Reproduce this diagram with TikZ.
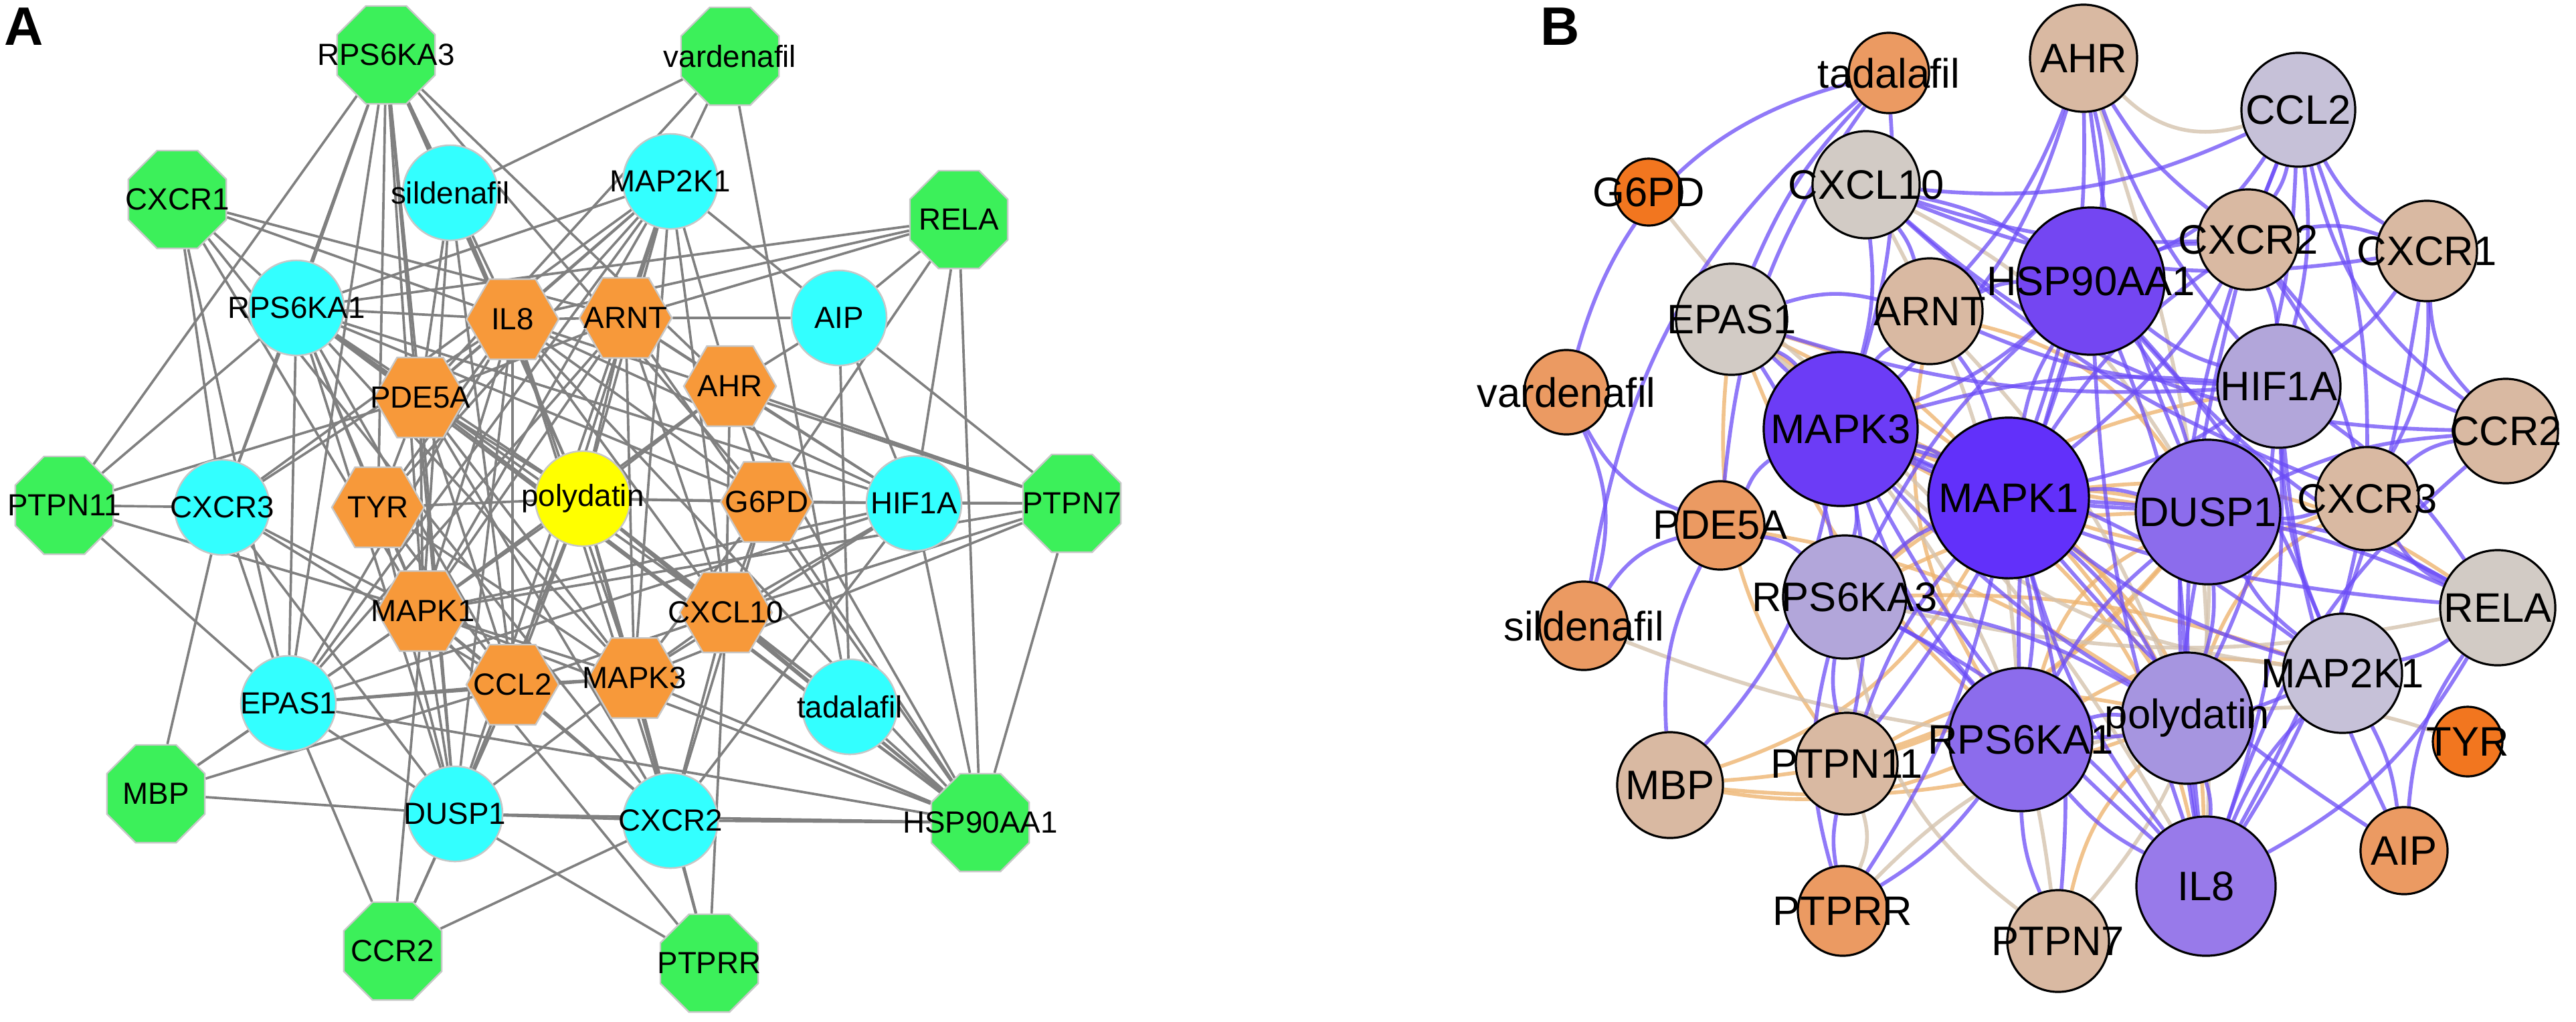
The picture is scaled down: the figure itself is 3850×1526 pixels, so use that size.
\documentclass[tikz,border=0pt]{standalone}
\usepackage{fontspec}
\setmainfont{Liberation Sans}
\usetikzlibrary{shapes.geometric,backgrounds}
\newcommand{\nlab}[1]{\makebox[0pt][c]{#1}}
\definecolor{agreen}{RGB}{60,240,90}
\definecolor{acyan}{RGB}{51,255,255}
\definecolor{aorange}{RGB}{247,153,58}
\definecolor{ayellow}{RGB}{255,255,0}
\definecolor{agray}{RGB}{128,128,128}
\definecolor{cva}{RGB}{98,48,250}
\definecolor{cvb}{RGB}{108,60,246}
\definecolor{cvh}{RGB}{116,70,242}
\definecolor{cpa}{RGB}{140,108,236}
\definecolor{cpb}{RGB}{152,122,234}
\definecolor{cpol}{RGB}{166,149,224}
\definecolor{clp}{RGB}{178,166,218}
\definecolor{clav}{RGB}{198,193,216}
\definecolor{cbei}{RGB}{210,203,197}
\definecolor{ctan}{RGB}{217,185,162}
\definecolor{corg}{RGB}{235,154,98}
\definecolor{cdorg}{RGB}{242,118,31}
\definecolor{epur}{RGB}{107,76,246}
\definecolor{etan}{RGB}{237,180,112}
\definecolor{ebei}{RGB}{212,195,174}
\begin{document}
\begin{tikzpicture}[x=0.01cm,y=-0.01cm,
 an/.style={inner sep=0pt, draw=black!22, line width=0.7pt, font=\fontsize{13}{13}\selectfont},
 oct/.style={an, regular polygon, regular polygon sides=8, minimum size=1.58cm, fill=agreen},
 hexa/.style={an, regular polygon, regular polygon sides=6, minimum size=1.38cm, fill=aorange},
 circa/.style={an, circle, minimum size=1.42cm, fill=acyan},
 ae/.style={draw=agray, line width=1.05pt},
 bn/.style={circle, draw=black, line width=0.9pt, inner sep=0pt, font=\fontsize{17.5}{17.5}\selectfont},
 pe/.style={draw=epur, draw opacity=0.75, line width=1.6pt},
 te/.style={draw=etan, draw opacity=0.8, line width=1.6pt},
 ge/.style={draw=ebei, draw opacity=0.8, line width=1.6pt},
 plab/.style={font=\fontsize{23}{23}\selectfont\bfseries, inner sep=0pt}
]
\useasboundingbox (0,0) rectangle (3850,1526);
\node[plab] (labA) at (36,40) {A};
\node[plab] (labB) at (2332,40) {B};
% ---------- Panel A nodes
\node[oct] (R3) at (577,82) {\nlab{RPS6KA3}};
\node[oct] (VAR) at (1091,84) {\nlab{vardenafil}};
\node[oct] (CX1) at (265,298) {\nlab{CXCR1}};
\node[circa] (SIL) at (673,288) {\nlab{sildenafil}};
\node[circa] (M2K) at (1002,271) {\nlab{MAP2K1}};
\node[oct] (RELA) at (1433,328) {\nlab{RELA}};
\node[circa] (R1) at (443,460) {\nlab{RPS6KA1}};
\node[hexa] (IL8) at (766,477) {\nlab{IL8}};
\node[hexa] (ARNT) at (935,475) {\nlab{ARNT}};
\node[circa] (AIP) at (1254,475) {\nlab{AIP}};
\node[hexa] (AHR) at (1091,577) {\nlab{AHR}};
\node[hexa] (PDE) at (628,594) {\nlab{PDE5A}};
\node[oct] (P11) at (96,755) {\nlab{PTPN11}};
\node[circa] (CX3) at (332,758) {\nlab{CXCR3}};
\node[hexa] (TYR) at (565,758) {\nlab{TYR}};
\node[circa, fill=ayellow] (POL) at (871,745) {\nlab{polydatin}};
\node[hexa] (G6PD) at (1146,750) {\nlab{G6PD}};
\node[circa] (HIF) at (1366,752) {\nlab{HIF1A}};
\node[oct] (P7) at (1602,752) {\nlab{PTPN7}};
\node[hexa] (MK1) at (632,913) {\nlab{MAPK1}};
\node[hexa] (CX10) at (1085,915) {\nlab{CXCL10}};
\node[hexa] (CCL2) at (766,1023) {\nlab{CCL2}};
\node[hexa] (MK3) at (948,1013) {\nlab{MAPK3}};
\node[circa] (TAD) at (1270,1056) {\nlab{tadalafil}};
\node[circa] (EP) at (431,1051) {\nlab{EPAS1}};
\node[oct] (MBP) at (233,1186) {\nlab{MBP}};
\node[circa] (DU) at (680,1216) {\nlab{DUSP1}};
\node[circa] (CX2) at (1002,1226) {\nlab{CXCR2}};
\node[oct] (HSP) at (1465,1229) {\nlab{HSP90AA1}};
\node[oct] (CCR2) at (587,1421) {\nlab{CCR2}};
\node[oct] (PRR) at (1060,1439) {\nlab{PTPRR}};
\begin{scope}[on background layer]
\foreach \a/\b in {R3/P11,R3/R1,R3/CX3,R3/EP,R3/TYR,R3/PDE,R3/SIL,R3/MK1,R3/DU,R3/IL8,R3/AHR,R3/G6PD,R3/POL,
 VAR/SIL,VAR/M2K,VAR/TAD,VAR/PDE,
 CX1/R1,CX1/CX3,CX1/EP,CX1/IL8,CX1/MK1,CX1/CX2,CX1/ARNT,
 SIL/PDE,SIL/MK1,SIL/POL,SIL/CCL2,
 M2K/R1,M2K/IL8,M2K/ARNT,M2K/PDE,M2K/TYR,M2K/CX3,M2K/MK1,M2K/POL,M2K/MK3,M2K/CCL2,M2K/DU,M2K/AIP,M2K/AHR,M2K/CX10,M2K/EP,
 RELA/R1,RELA/IL8,RELA/ARNT,RELA/AIP,RELA/HIF,RELA/HSP,RELA/G6PD,
 AIP/ARNT,AIP/AHR,AIP/HIF,AIP/P7,AIP/TAD,
 R1/IL8,R1/PDE,R1/TYR,R1/CX3,R1/P11,R1/EP,R1/MK1,R1/DU,R1/POL,R1/CCL2,R1/MK3,R1/HIF,R1/CX10,R1/G6PD,R1/HSP,
 IL8/ARNT,IL8/PDE,IL8/TYR,IL8/MK1,IL8/CCL2,IL8/MK3,IL8/CX10,IL8/CX2,IL8/DU,IL8/EP,IL8/HSP,IL8/CX3,IL8/P7,IL8/HIF,IL8/G6PD,
 ARNT/AHR,ARNT/PDE,ARNT/MK1,ARNT/POL,ARNT/HIF,ARNT/MK3,ARNT/CX10,ARNT/HSP,ARNT/EP,
 AHR/HIF,AHR/HSP,AHR/MK1,AHR/G6PD,AHR/CX10,AHR/POL,AHR/P7,
 PDE/TYR,PDE/MK1,PDE/POL,PDE/CCL2,PDE/MK3,PDE/HSP,PDE/CX2,PDE/DU,PDE/P11,
 P11/CX3,P11/EP,P11/MK1,
 CX3/EP,CX3/MBP,CX3/MK1,CX3/CCL2,CX3/DU,
 TYR/MK1,TYR/POL,TYR/CCL2,TYR/MK3,TYR/DU,
 POL/G6PD,POL/HIF,POL/MK1,POL/MK3,POL/CCL2,POL/CX10,POL/DU,POL/CX2,POL/HSP,POL/TAD,
 G6PD/HIF,G6PD/MK3,G6PD/CX10,G6PD/HSP,G6PD/P7,G6PD/CX2,
 HIF/P7,HIF/HSP,HIF/CX10,HIF/MK3,HIF/MK1,HIF/CX2,HIF/EP,
 P7/HSP,P7/MK3,P7/CX10,P7/MK1,
 MK1/CCL2,MK1/MK3,MK1/EP,MK1/DU,MK1/CX2,MK1/HSP,MK1/MBP,MK1/CCR2,MK1/PRR,
 CX10/MK3,CX10/CCL2,CX10/TAD,CX10/HSP,CX10/CX2,CX10/PRR,
 CCL2/MK3,CCL2/EP,CCL2/DU,CCL2/CX2,CCL2/CCR2,CCL2/MBP,
 MK3/DU,MK3/CX2,MK3/HSP,MK3/EP,MK3/PRR,
 TAD/HSP,EP/MBP,EP/DU,EP/CCR2,EP/HSP,MBP/DU,
 DU/CX2,DU/CCR2,DU/PRR,DU/HSP,CX2/HSP,CX2/PRR,CX2/CCR2}
 \draw[ae] (\a) -- (\b);
\end{scope}
% ---------- Panel B nodes
\node[bn, fill=corg, minimum size=1.2cm] (tadb) at (2823,109) {\nlab{tadalafil}};
\node[bn, fill=cdorg, minimum size=1.0cm] (g6b) at (2464,287) {\nlab{G6PD}};
\node[bn, fill=cbei, minimum size=1.6cm] (cx10b) at (2789,276) {\nlab{CXCL10}};
\node[bn, fill=cbei, minimum size=1.66cm] (epb) at (2588,477) {\nlab{EPAS1}};
\node[bn, fill=ctan, minimum size=1.58cm] (arntb) at (2884,465) {\nlab{ARNT}};
\node[bn, fill=corg, minimum size=1.26cm] (varb) at (2341,586) {\nlab{vardenafil}};
\node[bn, fill=cvb, minimum size=2.3cm] (mk3b) at (2751,641) {\nlab{MAPK3}};
\node[bn, fill=corg, minimum size=1.32cm] (pdeb) at (2571,785) {\nlab{PDE5A}};
\node[bn, fill=corg, minimum size=1.32cm] (silb) at (2367,935) {\nlab{sildenafil}};
\node[bn, fill=clp, minimum size=1.84cm] (r3b) at (2757,892) {\nlab{RPS6KA3}};
\node[bn, fill=ctan, minimum size=1.58cm] (mbpb) at (2496,1173) {\nlab{MBP}};
\node[bn, fill=ctan, minimum size=1.52cm] (p11b) at (2760,1141) {\nlab{PTPN11}};
\node[bn, fill=corg, minimum size=1.34cm] (prrb) at (2754,1361) {\nlab{PTPRR}};
\node[bn, fill=ctan, minimum size=1.6cm] (ahrb) at (3114,87) {\nlab{AHR}};
\node[bn, fill=clav, minimum size=1.7cm] (ccl2b) at (3435,164) {\nlab{CCL2}};
\node[bn, fill=ctan, minimum size=1.5cm] (cx2b) at (3360,358) {\nlab{CXCR2}};
\node[bn, fill=ctan, minimum size=1.5cm] (cx1b) at (3627,375) {\nlab{CXCR1}};
\node[bn, fill=cvh, minimum size=2.2cm] (hspb) at (3125,420) {\nlab{HSP90AA1}};
\node[bn, fill=clp, minimum size=1.84cm] (hifb) at (3406,577) {\nlab{HIF1A}};
\node[bn, fill=ctan, minimum size=1.56cm] (ccr2b) at (3745,644) {\nlab{CCR2}};
\node[bn, fill=ctan, minimum size=1.54cm] (cx3b) at (3538,745) {\nlab{CXCR3}};
\node[bn, fill=cva, minimum size=2.4cm] (mk1b) at (3002,744) {\nlab{MAPK1}};
\node[bn, fill=cpa, minimum size=2.16cm] (dub) at (3300,765) {\nlab{DUSP1}};
\node[bn, fill=cbei, minimum size=1.72cm] (relab) at (3733,908) {\nlab{RELA}};
\node[bn, fill=clav, minimum size=1.78cm] (m2kb) at (3501,1006) {\nlab{MAP2K1}};
\node[bn, fill=cpol, minimum size=1.96cm] (polb) at (3269,1073) {\nlab{polydatin}};
\node[bn, fill=cpa, minimum size=2.14cm] (r1b) at (3020,1105) {\nlab{RPS6KA1}};
\node[bn, fill=cdorg, minimum size=1.04cm] (tyrb) at (3688,1108) {\nlab{TYR}};
\node[bn, fill=corg, minimum size=1.3cm] (aipb) at (3593,1271) {\nlab{AIP}};
\node[bn, fill=cpb, minimum size=2.08cm] (il8b) at (3297,1324) {\nlab{IL8}};
\node[bn, fill=ctan, minimum size=1.52cm] (p7b) at (3076,1406) {\nlab{PTPN7}};
\begin{scope}[on background layer]
\foreach \a/\b/\k in {mbpb/r1b/-15,mbpb/mk1b/-20,mbpb/dub/-22,mbpb/polb/-12,epb/mk1b/15,epb/dub/-15,epb/polb/15,
 r3b/dub/12,p7b/polb/15,cx3b/mk1b/20,relab/mk1b/-20,r1b/dub/22,r3b/m2kb/10,mk3b/polb/22,p11b/dub/-15,pdeb/polb/12,epb/r1b/-12,
 arntb/r1b/-20,mk3b/il8b/25,r3b/hifb/15,p11b/polb/20,mk1b/il8b/25,dub/r3b/-25,cx3b/polb/-20,arntb/dub/20,r1b/m2kb/20,epb/p11b/-20}
 \draw[te] (\a) to[bend left=\k] (\b);
\foreach \a/\b/\k in {g6b/mk1b/-10,ahrb/ccl2b/-30,silb/r1b/-6,tyrb/polb/-12,prrb/polb/15,p7b/mk3b/-15,arntb/polb/10,prrb/p11b/-20,epb/il8b/10,cx10b/r1b/12,p7b/r3b/20,
 cx10b/dub/15,mk3b/m2kb/-18,r3b/relab/-12,ahrb/il8b/10,p7b/dub/-20}
 \draw[ge] (\a) to[bend left=\k] (\b);
\foreach \a/\b/\k in {tadb/varb/-30,tadb/pdeb/-15,tadb/epb/-10,tadb/mk3b/10,tadb/silb/-20,varb/pdeb/-20,varb/silb/20,silb/pdeb/20,
 pdeb/mbpb/-15,pdeb/mk3b/15,pdeb/r3b/15,
 cx10b/hspb/10,cx10b/ccl2b/-15,cx10b/cx2b/-10,cx10b/cx1b/-15,cx10b/arntb/10,cx10b/mk3b/10,cx10b/cx3b/-10,cx10b/ccr2b/-20,
 epb/arntb/15,epb/mk3b/10,epb/mk1b/-10,epb/hifb/-10,epb/r3b/10,
 arntb/ahrb/-10,arntb/hifb/-10,arntb/hspb/10,arntb/mk1b/10,arntb/mk3b/-10,
 ahrb/hspb/10,ahrb/hifb/-10,ahrb/mk1b/10,ahrb/cx2b/-10,ahrb/mk3b/15,ahrb/dub/-8,
 ccl2b/cx2b/10,ccl2b/cx1b/-15,ccl2b/ccr2b/-20,ccl2b/cx3b/10,ccl2b/hifb/10,ccl2b/hspb/15,ccl2b/dub/10,ccl2b/il8b/-15,ccl2b/mk1b/15,
 cx2b/cx1b/15,cx2b/hifb/10,cx2b/il8b/-10,cx2b/ccr2b/-15,cx2b/cx3b/10,cx2b/mk1b/-10,cx2b/hspb/-10,
 cx1b/ccr2b/-20,cx1b/cx3b/15,cx1b/hifb/10,cx1b/il8b/10,
 ccr2b/cx3b/-15,ccr2b/il8b/-15,ccr2b/dub/-10,
 cx3b/relab/-15,cx3b/il8b/10,cx3b/dub/10,
 hspb/mk1b/-10,hspb/mk3b/10,hspb/hifb/-10,hspb/dub/10,hspb/r1b/-10,hspb/polb/10,hspb/il8b/-8,hspb/m2kb/10,hspb/relab/-10,hspb/r3b/-10,hspb/p11b/10,
 hifb/mk1b/10,hifb/mk3b/-10,hifb/dub/-10,hifb/relab/10,hifb/polb/10,hifb/m2kb/-10,hifb/il8b/10,hifb/aipb/-10,
 mk3b/mk1b/10,mk3b/r3b/10,mk3b/r1b/-10,mk3b/dub/-10,mk3b/p11b/10,mk3b/mbpb/15,mk3b/il8b/-10,mk3b/m2kb/10,mk3b/polb/-8,mk3b/relab/-10,
 mk1b/r3b/-10,mk1b/r1b/10,mk1b/dub/10,mk1b/m2kb/-10,mk1b/polb/10,mk1b/il8b/-10,mk1b/relab/10,mk1b/p11b/-10,mk1b/prrb/10,mk1b/p7b/10,mk1b/aipb/-8,
 dub/polb/10,dub/il8b/-10,dub/m2kb/-10,dub/relab/10,dub/r1b/-10,
 r3b/r1b/10,r3b/p11b/-10,r3b/prrb/-15,r3b/polb/10,r3b/il8b/10,
 r1b/polb/10,r1b/il8b/-10,r1b/p7b/-10,r1b/prrb/10,r1b/m2kb/-10,
 m2kb/il8b/-10,m2kb/aipb/10,m2kb/relab/-10,relab/il8b/15,relab/aipb/-15,polb/il8b/10,p11b/prrb/-10}
 \draw[pe] (\a) to[bend left=\k] (\b);
\end{scope}
\end{tikzpicture}
\end{document}
